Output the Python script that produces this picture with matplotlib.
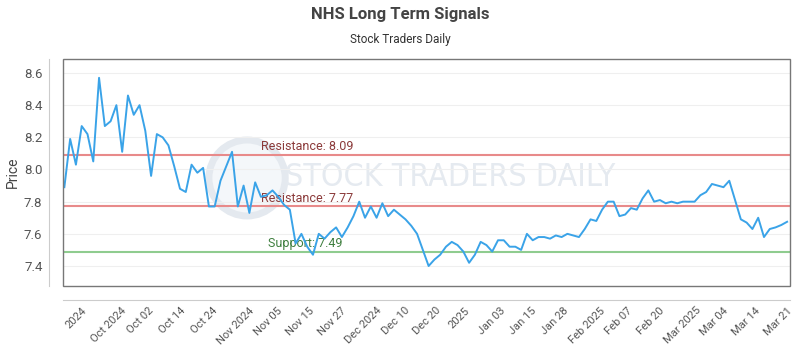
import numpy as np
import matplotlib
matplotlib.use("Agg")
import matplotlib.pyplot as plt
from matplotlib.patches import Ellipse

plt.rcParams['font.family'] = ['Roboto', 'DejaVu Sans']

# daily closing prices
prices = [
	7.89, 8.19, 8.03, 8.27, 8.22, 8.05, 8.57, 8.27, 8.30, 8.40,
	8.11, 8.46, 8.34, 8.40, 8.24, 7.96, 8.22, 8.20, 8.15, 8.02,
	7.88, 7.86, 8.03, 7.98, 8.01, 7.77, 7.77, 7.93, 8.02, 8.11,
	7.77, 7.90, 7.73, 7.92, 7.83, 7.84, 7.87, 7.83, 7.78, 7.75,
	7.54, 7.60, 7.52, 7.47, 7.60, 7.57, 7.61, 7.64, 7.58, 7.64,
	7.71, 7.80, 7.70, 7.77, 7.70, 7.79, 7.71, 7.75, 7.72, 7.69,
	7.65, 7.60, 7.50, 7.40, 7.44, 7.47, 7.52, 7.55, 7.53, 7.49,
	7.42, 7.47, 7.55, 7.53, 7.49, 7.56, 7.56, 7.52, 7.52, 7.50,
	7.60, 7.56, 7.58, 7.58, 7.57, 7.59, 7.58, 7.60, 7.59, 7.58,
	7.63, 7.69, 7.68, 7.75, 7.80, 7.80, 7.71, 7.72, 7.76, 7.75,
	7.82, 7.87, 7.80, 7.81, 7.79, 7.80, 7.79, 7.80, 7.80, 7.80,
	7.84, 7.86, 7.91, 7.90, 7.89, 7.93, 7.81, 7.69, 7.67, 7.63,
	7.70, 7.58, 7.63, 7.64, 7.655, 7.675,
]

tick_labels = [
	"2024", "Oct 2024", "Oct 02", "Oct 14", "Oct 24", "Nov 2024", "Nov 05",
	"Nov 15", "Nov 27", "Dec 2024", "Dec 10", "Dec 20", "2025", "Jan 03",
	"Jan 15", "Jan 28", "Feb 2025", "Feb 07", "Feb 20", "Mar 2025", "Mar 04",
	"Mar 14", "Mar 21",
]

resistance_hi = 8.09
resistance_lo = 7.77
support = 7.49


def main():
	fig = plt.figure(figsize=(8, 3.5), dpi=100)
	ax = fig.add_axes([0.079, 0.183, 0.9085, 0.648])

	x = np.arange(len(prices))

	# watermark
	ax.add_patch(Ellipse((0.253, 0.476), 0.105, 0.335, transform=ax.transAxes,
		facecolor='#f4f7fa', edgecolor='#e4e9ef', lw=5, zorder=0))
	ax.text(0.305, 0.476, "STOCK TRADERS DAILY", transform=ax.transAxes,
		family='DejaVu Sans', fontstretch='condensed', fontsize=23,
		color='#e5eaf0', ha='left', va='center', zorder=0)

	# support / resistance
	ax.axhline(resistance_hi, color='#e88a8a', lw=1.5, zorder=2)
	ax.axhline(resistance_lo, color='#e88a8a', lw=1.5, zorder=2)
	ax.axhline(support, color='#8fcc8f', lw=1.5, zorder=2)
	ax.text(34, resistance_hi + 0.01, "Resistance: %.2f" % resistance_hi,
		color='#8b3a3a', fontsize=9, va='bottom', zorder=3)
	ax.text(34, resistance_lo + 0.01, "Resistance: %.2f" % resistance_lo,
		color='#8b3a3a', fontsize=9, va='bottom', zorder=3)
	ax.text(35.2, support + 0.01, "Support: %.2f" % support,
		color='#3f7f3f', fontsize=9, va='bottom', zorder=3)

	# price line
	ax.plot(x, prices, color='#3aa3e8', lw=1.4, zorder=4)

	ax.set_xlim(-0.2, len(prices) - 0.5)
	ax.set_ylim(7.276, 8.686)

	ax.set_yticks([7.4, 7.6, 7.8, 8.0, 8.2, 8.4, 8.6])
	ax.set_yticklabels(["%.1f" % v for v in ax.get_yticks()])
	tick_pos = np.linspace(2.1, 123.5, len(tick_labels))
	ax.set_xticks(tick_pos)
	ax.set_xticklabels(tick_labels)

	ax.grid(axis='y', color='#efefef', lw=0.8)
	ax.set_axisbelow(True)
	ax.tick_params(axis='both', length=0, colors='#555555')
	ax.tick_params(axis='y', pad=5, labelsize=9.5)
	ax.tick_params(axis='x', pad=4, labelrotation=45, labelsize=8)
	plt.setp(ax.get_xticklabels(), ha='right', rotation_mode='anchor')
	ax.set_ylabel("Price", color='#444444', fontsize=10, labelpad=3)

	# offset axis lines + box
	for side in ['left', 'bottom']:
		ax.spines[side].set_position(('outward', 10))
		ax.spines[side].set_color('#cccccc')
	for side in ['top', 'right']:
		ax.spines[side].set_visible(False)
	ax.add_patch(plt.Rectangle((0, 0), 1, 1, transform=ax.transAxes, fill=False,
		edgecolor='#777777', lw=1, clip_on=False, zorder=5))

	fig.text(0.5, 1 - 15 / 350., "NHS Long Term Signals", ha='center', va='center',
		fontsize=12, fontweight='bold', color='#444444')
	fig.text(0.5, 1 - 40 / 350., "Stock Traders Daily", ha='center', va='center',
		fontsize=8.5, color='#333333')

	fig.savefig("out.png", dpi=100, facecolor='white')


if __name__ == "__main__":
	main()
